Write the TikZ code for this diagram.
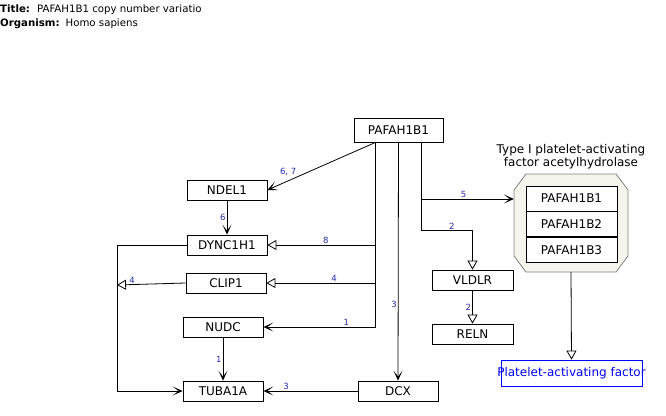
\documentclass[tikz,border=0pt]{standalone}
\usepackage{fontspec}
\setmainfont{DejaVu Sans}
\usetikzlibrary{arrows.meta, positioning}

\definecolor{lblblue}{RGB}{40,40,170}
\definecolor{grpfill}{RGB}{245,245,238}

\begin{document}
\begin{tikzpicture}[x=1pt, y=-1pt, font=\fontsize{12}{14}\selectfont]
        % styles for genes, arrows and edge labels
        \tikzstyle{gene} = [rectangle, draw=black, line width=0.8pt, minimum width=80pt, minimum height=20pt, inner sep=0pt, text centered]
        \tikzstyle{member} = [gene, minimum width=91pt, minimum height=25pt, fill=white]
        \tikzstyle{arrow} = [line width=0.8pt, -{Stealth[length=10pt, width=9pt, inset=6pt]}]
        \tikzstyle{openarrow} = [line width=0.8pt, -{Triangle[open, length=9pt, width=10pt]}]
        \tikzstyle{lbl} = [font=\fontsize{8.5}{8.5}\selectfont, text=lblblue, inner sep=1pt]

        \useasboundingbox (0,0) rectangle (666,415);

        % title block
        \node (title) [anchor=west, inner sep=0pt, font=\fontsize{10.2}{10}\selectfont] at (0,10) {\textbf{Title:}\hspace{7pt}PAFAH1B1 copy number variatio};
        \node (organism) [anchor=west, inner sep=0pt, font=\fontsize{10.2}{10}\selectfont] at (0,24) {\textbf{Organism:}\hspace{6pt}Homo sapiens};

        % genes
        \node (paf) [gene, minimum width=89pt, minimum height=24pt] at (398.5,130) {PAFAH1B1};
        \node (ndel) [gene] at (227,190) {NDEL1};
        \node (dync) [gene] at (227,245) {DYNC1H1};
        \node (clip) [gene] at (226,283) {CLIP1};
        \node (nudc) [gene] at (223,327) {NUDC};
        \node (tuba) [gene] at (223,391) {TUBA1A};
        \node (dcx) [gene] at (398,391) {DCX};
        \node (vldlr) [gene, minimum width=81pt] at (472.5,280) {VLDLR};
        \node (reln) [gene, minimum width=81pt] at (472.5,334) {RELN};

        % complex
        \filldraw[fill=grpfill, draw=black!50, line width=0.8pt] (526,174) -- (616,174) -- (628,190) -- (628,256) -- (616,272) -- (526,272) -- (514,256) -- (514,190) -- cycle;
        \node (grp) [minimum width=114pt, minimum height=98pt, inner sep=0pt] at (571,223) {};
        \node (grplabel) [align=center, above=1pt of grp, font=\fontsize{12}{13.5}\selectfont] {Type I platelet-activating\\factor acetylhydrolase};
        \node (m1) [member] at (571.5,198.5) {PAFAH1B1};
        \node (m2) [member, below=0pt of m1] {PAFAH1B2};
        \node (m3) [member, below=0pt of m2] {PAFAH1B3};

        \node (pafac) [gene, draw=blue, text=blue, minimum width=141pt, minimum height=26pt] at (571.5,373) {\makebox[139pt][c]{Platelet-activating factor}};
        \coordinate (clipend) at (117,285);

        % connectors
        \draw [arrow] ([xshift=-23pt]paf.south) -- node (l67) [lbl, pos=0.72, above left=0pt] {6, 7} (ndel.east);
        \draw [arrow] (ndel.south) -- node (l6) [lbl, left] {6} (dync.north);
        \draw [openarrow] ([xshift=-23pt]paf.south) |- node (l8) [lbl, pos=0.73, above] {8} (dync.east);
        \draw [openarrow] ([xshift=-23pt]paf.south) |- node (l4a) [lbl, pos=0.69, above] {4} (clip.east);
        \draw [arrow] ([xshift=-23pt]paf.south) |- node (l1a) [lbl, pos=0.63, above] {1} (nudc.east);
        \draw [arrow] (paf.south) -- node (l3a) [lbl, pos=0.68, left] {3} (dcx.north);
        \draw [arrow] ([xshift=22.5pt]paf.south) |- node (l5) [lbl, pos=0.73, above] {5} ([yshift=24pt]grp.west);
        \draw [openarrow] ([xshift=22.5pt]paf.south) |- node (l2a) [lbl, pos=0.8, above] {2} ([yshift=39pt]vldlr.north) -- (vldlr.north);
        \draw [openarrow] (vldlr.south) -- node (l2b) [lbl, left] {2} (reln.north);
        \draw [openarrow] (grp.south) -- (pafac.north);
        \draw [arrow] (dync.west) -- ++(-69,0) |- (tuba.west);
        \draw [openarrow] (clip.west) -- node (l4b) [lbl, pos=0.78, above] {4} (clipend);
        \draw [arrow] (nudc.south) -- node (l1b) [lbl, left] {1} (tuba.north);
        \draw [arrow] (dcx.west) -- node (l3b) [lbl, pos=0.76, above] {3} (tuba.east);

    \end{tikzpicture}
\end{document}
